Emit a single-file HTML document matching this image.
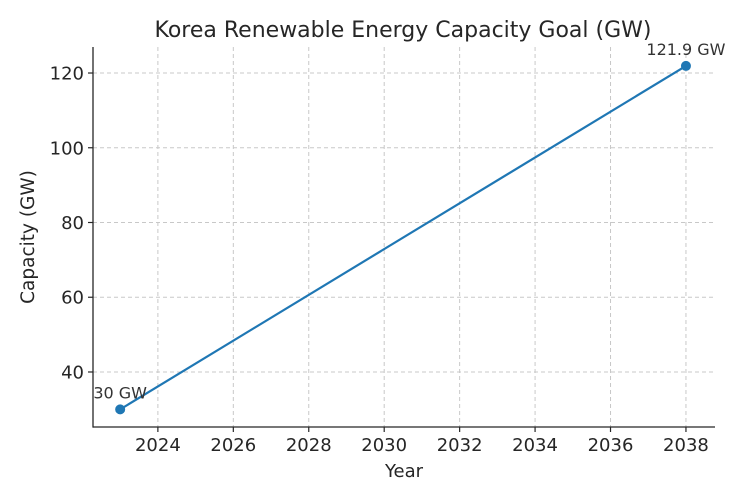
<!DOCTYPE html>
<html><head><meta charset="utf-8"><style>
body{margin:0;background:#fff}
svg{display:block;font-family:"DejaVu Sans","Liberation Sans",sans-serif}
</style></head><body>
<svg id="chart" width="750" height="500">
<text x="403" y="37" font-size="22" text-anchor="middle" fill="#262626">Korea Renewable Energy Capacity Goal (GW)</text>
<text x="404" y="477" font-size="18" text-anchor="middle" fill="#262626">Year</text>
<text transform="translate(34,237) rotate(-90)" font-size="18.5" text-anchor="middle" fill="#262626">Capacity (GW)</text>
<g id="grid"></g><g id="axes"></g><g id="marks"></g>
</svg>
<script>
const years = [2023, 2038];
const capacity = [30, 121.9];
const pointLabels = ["30 GW", "121.9 GW"];
const xTicks = [2024, 2026, 2028, 2030, 2032, 2034, 2036, 2038];
const yTicks = [40, 60, 80, 100, 120];

const L=93,R=715,T=47,B=427;
const xMin=2022.28,xMax=2038.77,yMin=25.28,yMax=126.96;
const xs=v=>L+(v-xMin)/(xMax-xMin)*(R-L);
const ys=v=>B-(v-yMin)/(yMax-yMin)*(B-T);
const NS="http://www.w3.org/2000/svg";
function mk(tag,attrs,parent,txt){const e=document.createElementNS(NS,tag);for(const k in attrs)e.setAttribute(k,attrs[k]);if(txt!=null)e.textContent=txt;parent.appendChild(e);return e;}
const grid=document.getElementById('grid'),axes=document.getElementById('axes'),marks=document.getElementById('marks');
xTicks.forEach(t=>{
  const x=xs(t);
  const g=mk('line',{x1:x,x2:x,y1:T,y2:B,stroke:'#c8c8c8','stroke-dasharray':'4,3','stroke-width':1},grid);
  
  
  mk('line',{x1:x,x2:x,y1:B,y2:B+5,stroke:'#262626','stroke-width':1.2},axes);
  const tx=mk('text',{x:x,y:B+24,'font-size':18,'text-anchor':'middle',fill:'#262626'},axes,t);
  
  
});
yTicks.forEach(t=>{
  const y=ys(t);
  const g=mk('line',{x1:L,x2:R,y1:y,y2:y,stroke:'#c8c8c8','stroke-dasharray':'4,3','stroke-width':1},grid);
  
  
  mk('line',{x1:L-5,x2:L,y1:y,y2:y,stroke:'#262626','stroke-width':1.2},axes);
  const tx=mk('text',{x:L-9,y:y+6.5,'font-size':18,'text-anchor':'end',fill:'#262626'},axes,t);
  
  
});
const sp1=mk('line',{x1:L,x2:L,y1:T,y2:B+0.6,stroke:'#262626','stroke-width':1.3},axes);


const sp2=mk('line',{x1:L,x2:R,y1:B,y2:B,stroke:'#262626','stroke-width':1.3},axes);


const pts=years.map((y,i)=>xs(y)+','+ys(capacity[i])).join(' ');
const line=mk('polyline',{points:pts,fill:'none',stroke:'#1f77b4','stroke-width':2.2},marks);


years.forEach((y,i)=>{
  const c=mk('circle',{cx:xs(y),cy:ys(capacity[i]),r:5,fill:'#1f77b4'},marks);
  
  
  const t=mk('text',{x:xs(y),y:ys(capacity[i])-11,'font-size':16,'text-anchor':'middle',fill:'#333'},marks,pointLabels[i]);
  
  
});
</script>
</body></html>
